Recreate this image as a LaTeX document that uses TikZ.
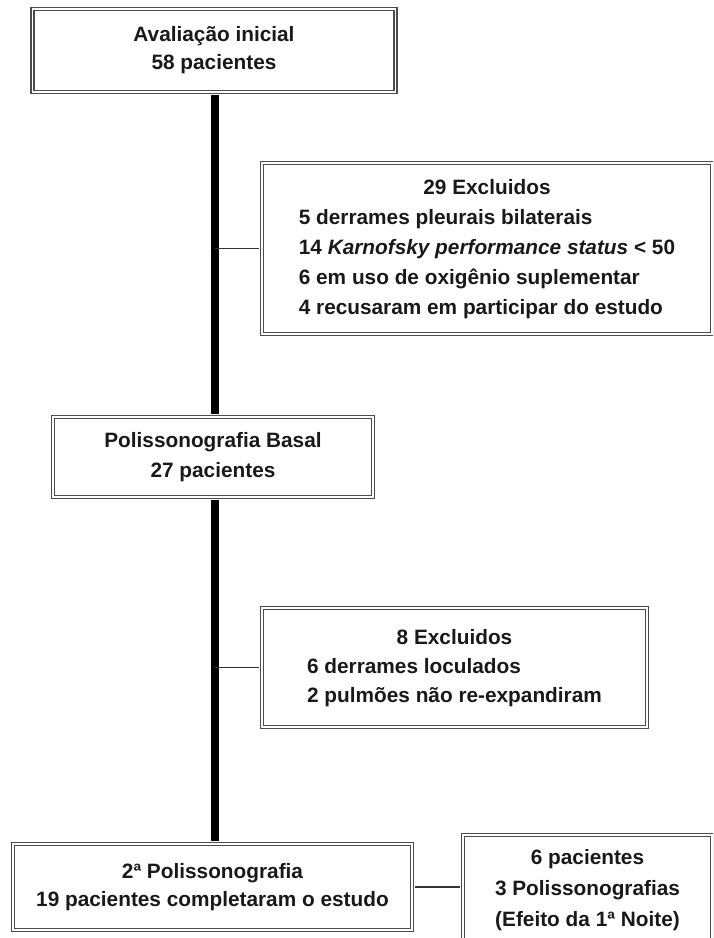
\documentclass[tikz,border=0pt]{standalone}
\usepackage{fontspec}
\setmainfont{Liberation Sans}
\usetikzlibrary{positioning,calc}

\begin{document}
\begin{tikzpicture}[
    x=1pt, y=-1pt,
    box/.style={rectangle, draw=black!70, double=white, double distance=1.8pt, line width=1.3pt, inner sep=0pt, text=black!90},
    spine/.style={line width=8.5pt, black, shorten <=2.5pt, shorten >=2.5pt},
    link/.style={line width=1.6pt, black!80, shorten <=2.5pt}
]
    \useasboundingbox (0,0) rectangle (713,938);
    \clip (0,0) rectangle (713,938);

    % Boxes down the middle
    \node[box, minimum width=363pt, minimum height=83pt, align=center, font=\bfseries\fontsize{20.8}{28}\selectfont] (init) at (214, 50.5) {Avaliação inicial\\58 pacientes};
    \node[box, minimum width=320pt, minimum height=80pt, align=center, font=\bfseries\fontsize{20.8}{30}\selectfont] (basal) at (213, 457) {Polissonografia Basal\\27 pacientes};
    \node[box, minimum width=399pt, minimum height=86pt, align=center, font=\bfseries\fontsize{20.8}{28}\selectfont] (fin) at (212.5, 887) {2ª Polissonografia\\19 pacientes completaram o estudo};

    % Exclusions
    \node[box, minimum width=450pt, minimum height=171pt, font=\bfseries\fontsize{20.8}{30}\selectfont] (excl1) at (487, 248.5) {\begin{tabular}{@{}l@{}}
        \multicolumn{1}{@{}c@{}}{29 Excluidos}\\
        5 derrames pleurais bilaterais\\
        14 \textit{Karnofsky performance status} < 50\\
        6 em uso de oxigênio suplementar\\
        4 recusaram em participar do estudo
    \end{tabular}};
    \node[box, minimum width=385pt, minimum height=119pt, font=\bfseries\fontsize{20.8}{29}\selectfont] (excl2) at (454.5, 667.5) {\begin{tabular}{@{}l@{}}
        \multicolumn{1}{@{}c@{}}{8 Excluidos}\\
        6 derrames loculados\\
        2 pulmões não re-expandiram
    \end{tabular}};

    % First night
    \node[box, minimum width=249pt, minimum height=110pt, align=center, font=\bfseries\fontsize{20.8}{31}\selectfont] (follow) at (587.5, 890) {6 pacientes\\3 Polissonografias\\(Efeito da 1ª Noite)};

    % Connectors
    \draw[spine] ([xshift=1pt]init.south) -- ([xshift=1pt]init.south |- basal.north);
    \draw[spine] ([xshift=1pt]init.south |- basal.south) -- ([xshift=1pt]init.south |- fin.north);
    \draw[link] (excl1.west) -- ([xshift=1pt]init.south |- excl1.west);
    \draw[link] (excl2.west) -- ([xshift=1pt]init.south |- excl2.west);
    \draw[link, shorten >=2.5pt] (fin.east) -- (fin.east -| follow.west);
\end{tikzpicture}
\end{document}
